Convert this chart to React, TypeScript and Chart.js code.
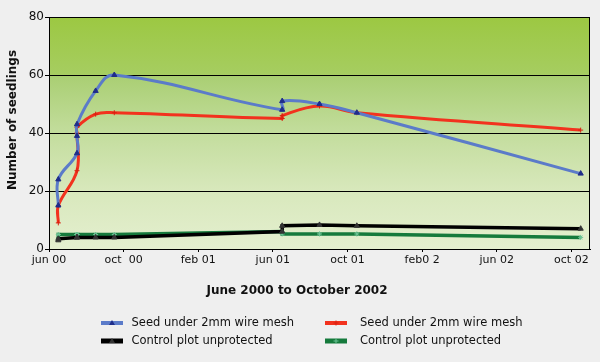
import React, { useEffect, useRef } from "react";
import { Chart, registerables } from "chart.js";

Chart.register(...registerables);

// months since the start of June 2000
const surveyMonths = [0.5, 0.5, 1.5, 1.5, 1.5, 2.5, 3.5, 12.5, 12.5, 14.5, 16.5, 28.5];
const meshBlue = [15, 24, 33, 39, 43, 54.5, 60, 48, 51, 50, 47, 26];
const meshRed = [9, 15, 27, 40, 42, 46.5, 47, 45, 46, 49.3, 47, 41];
const controlBlack = [3, 3.5, 4, 4, 4, 4, 4, 6, 8, 8.3, 8, 7];
const controlGreen = [3.5, 5, 5, 5, 5, 5, 5, 6, 5.2, 5.2, 5.2, 4];
const xTickLabels = ["jun 00", "oct  00", "feb 01", "jun 01", "oct 01", "feb0 2", "jun 02", "oct 02"];
const seriesNames = [
  "Seed under 2mm wire mesh",
  "Seed under 2mm wire mesh",
  "Control plot unprotected",
  "Control plot unprotected",
];
const xTitle = "June 2000 to October 2002";
const yTitle = "Number of seedlings";

const FONT = "'DejaVu Sans', Verdana, sans-serif";

const lineColors = ["#5b7bc9", "#f2321e", "#000000", "#157a3c"];
const markerColors = ["#1f2d8a", "#d92010", "#333333", "#6cc495"];
const markerStyles = ["triangle", "cross", "triangle", "star"];

function pts(vals: number[]) {
  return vals.map((v, i) => ({ x: surveyMonths[i], y: v }));
}

const decorPlugin = {
  id: "decor",
  beforeDraw(chart: any) {
    const { ctx, chartArea: a } = chart;
    ctx.save();
    ctx.fillStyle = "#efefef";
    ctx.fillRect(0, 0, chart.width, chart.height);
    const g = ctx.createLinearGradient(0, a.top, 0, a.bottom);
    g.addColorStop(0, "#9cc842");
    g.addColorStop(0.245, "#a6cd60");
    g.addColorStop(0.26, "#aacf74");
    g.addColorStop(0.5, "#c3dd9d");
    g.addColorStop(0.75, "#d8e8bc");
    g.addColorStop(1, "#e4efcf");
    ctx.fillStyle = g;
    ctx.fillRect(a.left, a.top, a.right - a.left, a.bottom - a.top);
    ctx.restore();
  },
  afterDraw(chart: any) {
    const { ctx, chartArea: a } = chart;
    ctx.save();
    ctx.strokeStyle = "#000";
    ctx.lineWidth = 1;
    ctx.beginPath();
    ctx.moveTo(Math.round(a.right) - 0.5, a.top);
    ctx.lineTo(Math.round(a.right) - 0.5, a.bottom);
    ctx.stroke();

    // axis titles
    ctx.fillStyle = "#111";
    ctx.font = `bold 12px ${FONT}`;
    ctx.textAlign = "center";
    ctx.textBaseline = "middle";
    ctx.fillText(xTitle, 297, 291);
    ctx.save();
    ctx.translate(13, 120);
    ctx.rotate(-Math.PI / 2);
    ctx.fillText(yTitle, 0, 0);
    ctx.restore();

    // legend (2 x 2)
    const cols = [101, 325];
    const rows = [323, 341];
    ctx.font = `11.5px ${FONT}`;
    ctx.textAlign = "left";
    for (let i = 0; i < 4; i++) {
      const x0 = cols[i % 2];
      const y0 = rows[Math.floor(i / 2)];
      ctx.strokeStyle = lineColors[i];
      ctx.lineWidth = i >= 2 ? 5 : 4;
      ctx.beginPath();
      ctx.moveTo(x0, y0);
      ctx.lineTo(x0 + 22, y0);
      ctx.stroke();
      const mx = x0 + 11;
      ctx.fillStyle = markerColors[i];
      ctx.strokeStyle = markerColors[i];
      ctx.lineWidth = 1;
      if (markerStyles[i] === "triangle") {
        ctx.beginPath();
        ctx.moveTo(mx, y0 - 3);
        ctx.lineTo(mx + 3, y0 + 2);
        ctx.lineTo(mx - 3, y0 + 2);
        ctx.closePath();
        ctx.fill();
      } else {
        ctx.beginPath();
        ctx.moveTo(mx - 2.5, y0);
        ctx.lineTo(mx + 2.5, y0);
        ctx.moveTo(mx, y0 - 2.5);
        ctx.lineTo(mx, y0 + 2.5);
        ctx.stroke();
      }
      ctx.fillStyle = "#111";
      ctx.fillText(seriesNames[i], i % 2 === 0 ? 131.5 : 360, y0);
    }
    ctx.restore();
  },
};

export default function App() {
  const ref = useRef<HTMLCanvasElement | null>(null);
  useEffect(() => {
    document.body.style.margin = "0";
    document.body.style.background = "#efefef";
    const canvas = ref.current!;
    const datasets = [meshBlue, meshRed, controlBlack, controlGreen].map((vals, i) => ({
      label: seriesNames[i],
      data: pts(vals),
      borderColor: lineColors[i],
      backgroundColor: markerColors[i],
      pointBorderColor: markerColors[i],
      pointBackgroundColor: markerColors[i],
      pointStyle: markerStyles[i] as any,
      pointRadius: markerStyles[i] === "triangle" ? 3 : 2.5,
      pointBorderWidth: 1,
      borderWidth: i >= 2 ? 3.5 : 3,
      tension: i >= 2 ? 0 : 0.4,
      fill: false,
    }));
    const chart = new Chart(canvas, {
      type: "line",
      data: { datasets },
      options: {
        animation: false,
        responsive: false,
        devicePixelRatio: 1,
        layout: { padding: { left: 0, top: 17, right: 10, bottom: 87 } },
        plugins: { legend: { display: false }, tooltip: { enabled: false } },
        scales: {
          x: {
            type: "linear",
            min: 0,
            max: 29,
            afterFit: (s: any) => {
              s.height = 26;
            },
            border: { display: true, color: "#000", width: 1 },
            grid: { drawOnChartArea: false, drawTicks: true, tickLength: 3, color: "#000" },
            ticks: {
              stepSize: 4,
              includeBounds: false,
              autoSkip: false,
              maxRotation: 0,
              padding: 2,
              color: "#111",
              font: { family: FONT, size: 11 },
              callback: (v: any) => {
                const idx = Number(v) / 4;
                return Number.isInteger(idx) ? xTickLabels[idx] ?? "" : "";
              },
            },
          },
          y: {
            min: 0,
            max: 80,
            afterFit: (s: any) => {
              s.width = 49;
            },
            border: { display: true, color: "#000", width: 1 },
            grid: { color: "#000", lineWidth: 1, tickLength: 4 },
            ticks: {
              stepSize: 20,
              padding: 1,
              color: "#111",
              font: { family: FONT, size: 12 },
            },
          },
        },
      },
      plugins: [decorPlugin],
    });
    return () => chart.destroy();
  }, []);
  return (
    <div style={{ width: 600, height: 362 }}>
      <canvas ref={ref} width={600} height={362} />
    </div>
  );
}
